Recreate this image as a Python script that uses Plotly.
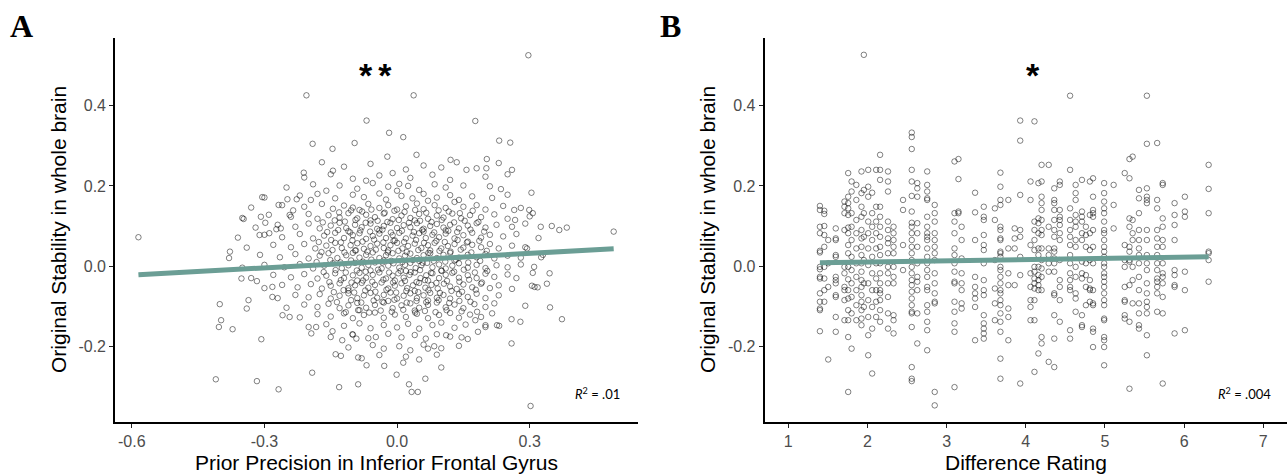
import plotly.graph_objects as go

# ---------------- Panel A data: (prior precision IFG, original stability) ----------------
pts_a_outer = [
    (0.297, 0.526), (-0.205, 0.426), (0.0375, 0.426), (-0.069, 0.363), (0.177, 0.362),
    (-0.018, 0.3325), (0.014, 0.3217), (-0.191, 0.305), (-0.096, 0.307), (-0.146, 0.2925),
    (0.231, 0.313), (0.256, 0.308), (0.044, 0.2775), (-0.022, 0.273), (0.203, 0.267),
    (0.121, 0.265), (0.135, 0.259), (-0.211, 0.233), (0.26, 0.24), (0.202, 0.244),
    (0.157, 0.24), (-0.145, 0.238), (-0.305, 0.172), (-0.268, 0.1525), (-0.248, 0.1667),
    (-0.227, 0.1667), (-0.347, 0.1175), (-0.243, 0.1275), (-0.308, 0.123), (-0.298, 0.108),
    (-0.311, 0.0775), (-0.289, 0.082), (-0.273, 0.092), (-0.263, 0.094), (-0.378, 0.036),
    (-0.585, 0.072), (0.307, 0.132), (0.325, 0.098), (0.367, 0.09), (0.384, 0.096),
    (0.49, 0.086), (0.304, 0.183), (0.299, 0.14), (0.265, 0.14), (0.267, 0.115),
    (0.294, 0.044), (0.326, 0.022), (0.307, -0.017), (0.345, -0.018), (0.339, -0.044),
    (0.305, -0.049), (0.311, -0.052), (0.318, -0.053), (0.29, -0.099), (0.346, -0.103),
    (0.373, -0.1325), (0.259, -0.1325), (0.279, -0.139), (0.259, -0.193), (0.302, -0.349),
    (0.1, -0.253), (0.064, -0.281), (0.027, -0.295), (0.033, -0.314), (0.047, -0.314),
    (-0.001, -0.271), (0.014, -0.241), (-0.029, -0.249), (-0.048, -0.177), (-0.088, -0.295),
    (-0.131, -0.302), (-0.069, -0.2475), (-0.088, -0.228), (-0.139, -0.22), (-0.127, -0.224),
    (-0.192, -0.266), (-0.268, -0.3075), (-0.317, -0.287), (-0.41, -0.2825), (-0.372, -0.1575),
    (-0.398, -0.135), (-0.403, -0.152), (-0.401, -0.095), (-0.34, -0.106), (-0.336, -0.085),
    (-0.352, -0.031), (-0.317, -0.0375), (-0.307, -0.1825), (-0.259, -0.1225), (-0.243, -0.127),
    (-0.282, -0.077), (-0.282, -0.052), (-0.194, -0.168), (-0.183, -0.152), (-0.146, -0.1625),
    (-0.124, -0.185), (-0.101, -0.17), (-0.092, -0.181), (0.084, -0.2), (0.07, -0.206),
    (0.111, -0.1725), (0.146, -0.178), (0.183, -0.164), (0.2, -0.1475), (0.226, -0.1475),
    (0.177, -0.135), (0.181, -0.114), (0.231, -0.149),
]

pts_a_core = [
    (-0.12, 0.248), (-0.06, 0.255), (0.02, 0.241), (0.06, 0.251), (0.1, 0.246), (-0.17, 0.259), (0.18, 0.244), (0.23, 0.257),
    (-0.21, 0.221), (-0.15, 0.229), (-0.1, 0.218), (-0.04, 0.226), (-0.01, 0.232), (0.03, 0.22), (0.08, 0.228), (0.12, 0.215),
    (0.2, 0.223), (0.25, 0.229), (-0.07, 0.213),
    (-0.25, 0.196), (-0.19, 0.204), (-0.13, 0.201), (-0.09, 0.193), (-0.055, 0.207), (-0.02, 0.198), (0.005, 0.205), (0.025, 0.2),
    (0.05, 0.19), (0.085, 0.204), (0.11, 0.196), (0.15, 0.201), (0.21, 0.199), (0.235, 0.192), (-0.16, 0.188), (0.0, 0.188),
    (-0.3, 0.171), (-0.22, 0.176), (-0.18, 0.18), (-0.14, 0.169), (-0.1, 0.178), (-0.075, 0.172), (-0.04, 0.181), (-0.025, 0.166),
    (0.01, 0.175), (0.035, 0.169), (0.06, 0.18), (0.09, 0.171), (0.12, 0.177), (0.14, 0.165), (0.17, 0.174), (0.215, 0.17),
    (0.25, 0.178), (-0.195, 0.165), (0.07, 0.163),
    (-0.33, 0.146), (-0.26, 0.152), (-0.21, 0.148), (-0.17, 0.155), (-0.145, 0.143), (-0.12, 0.151), (-0.1, 0.146), (-0.085, 0.14),
    (-0.065, 0.155), (-0.04, 0.145), (-0.02, 0.152), (0.0, 0.141), (0.02, 0.149), (0.045, 0.156), (0.06, 0.142), (0.085, 0.152),
    (0.11, 0.145), (0.13, 0.16), (0.15, 0.148), (0.18, 0.152), (0.2, 0.141), (0.24, 0.15), (0.28, 0.145), (-0.235, 0.139),
    (-0.35, 0.12), (-0.29, 0.128), (-0.24, 0.123), (-0.2, 0.13), (-0.18, 0.118), (-0.155, 0.127), (-0.13, 0.121), (-0.11, 0.132),
    (-0.09, 0.119), (-0.07, 0.128), (-0.05, 0.122), (-0.03, 0.131), (-0.01, 0.117), (0.01, 0.126), (0.03, 0.12), (0.05, 0.13),
    (0.07, 0.118), (0.09, 0.126), (0.105, 0.121), (0.125, 0.131), (0.145, 0.119), (0.165, 0.127), (0.19, 0.122), (0.22, 0.129),
    (0.25, 0.118), (0.3, 0.124), (-0.06, 0.114), (0.04, 0.114),
    (-0.32, 0.096), (-0.27, 0.103), (-0.23, 0.098), (-0.2, 0.106), (-0.175, 0.094), (-0.15, 0.101), (-0.13, 0.108), (-0.115, 0.095),
    (-0.095, 0.103), (-0.08, 0.097), (-0.06, 0.106), (-0.045, 0.093), (-0.03, 0.1), (-0.015, 0.108), (0.0, 0.095), (0.015, 0.102),
    (0.03, 0.097), (0.045, 0.107), (0.06, 0.093), (0.075, 0.1), (0.09, 0.105), (0.105, 0.096), (0.12, 0.103), (0.14, 0.094),
    (0.16, 0.101), (0.18, 0.107), (0.2, 0.096), (0.225, 0.103), (0.26, 0.098), (0.29, 0.106), (0.35, 0.1), (-0.04, 0.089), (0.11, 0.089),
    (-0.36, 0.071), (-0.3, 0.078), (-0.26, 0.072), (-0.22, 0.08), (-0.19, 0.069), (-0.165, 0.076), (-0.14, 0.083), (-0.12, 0.07),
    (-0.1, 0.077), (-0.085, 0.082), (-0.07, 0.068), (-0.055, 0.075), (-0.04, 0.081), (-0.025, 0.07), (-0.01, 0.077), (0.005, 0.083),
    (0.02, 0.069), (0.035, 0.076), (0.05, 0.082), (0.065, 0.07), (0.08, 0.078), (0.095, 0.072), (0.11, 0.081), (0.13, 0.069),
    (0.15, 0.077), (0.17, 0.083), (0.19, 0.071), (0.21, 0.078), (0.24, 0.074), (0.27, 0.08), (0.32, 0.07), (-0.005, 0.064),
    (0.06, 0.086), (-0.11, 0.087),
    (-0.34, 0.046), (-0.28, 0.053), (-0.24, 0.047), (-0.21, 0.055), (-0.185, 0.044), (-0.16, 0.051), (-0.14, 0.058), (-0.125, 0.045),
    (-0.105, 0.052), (-0.09, 0.057), (-0.075, 0.043), (-0.06, 0.05), (-0.045, 0.056), (-0.03, 0.045), (-0.015, 0.052), (0.0, 0.058),
    (0.012, 0.044), (0.025, 0.05), (0.04, 0.056), (0.055, 0.045), (0.07, 0.052), (0.085, 0.058), (0.1, 0.044), (0.115, 0.05),
    (0.13, 0.055), (0.15, 0.046), (0.17, 0.053), (0.19, 0.047), (0.21, 0.055), (0.23, 0.044), (0.26, 0.051), (0.29, 0.047),
    (-0.02, 0.039), (0.075, 0.039), (-0.095, 0.039), (0.16, 0.061),
    (-0.38, 0.02), (-0.31, 0.028), (-0.265, 0.022), (-0.23, 0.03), (-0.2, 0.019), (-0.175, 0.026), (-0.155, 0.032), (-0.135, 0.02),
    (-0.115, 0.027), (-0.1, 0.033), (-0.085, 0.021), (-0.07, 0.028), (-0.055, 0.034), (-0.04, 0.02), (-0.025, 0.027), (-0.01, 0.032),
    (0.005, 0.019), (0.018, 0.026), (0.03, 0.031), (0.045, 0.02), (0.06, 0.027), (0.075, 0.032), (0.09, 0.02), (0.105, 0.028),
    (0.12, 0.033), (0.14, 0.021), (0.16, 0.028), (0.18, 0.022), (0.2, 0.03), (0.22, 0.019), (0.25, 0.026), (0.28, 0.021),
    (0.33, 0.028), (-0.03, 0.014), (0.05, 0.013), (0.13, 0.014),
    (-0.35, -0.004), (-0.3, 0.003), (-0.255, -0.003), (-0.22, 0.005), (-0.19, -0.006), (-0.165, 0.001), (-0.145, 0.007), (-0.125, -0.005),
    (-0.11, 0.002), (-0.095, 0.008), (-0.08, -0.004), (-0.065, 0.003), (-0.05, 0.009), (-0.035, -0.006), (-0.02, 0.001), (-0.008, 0.007),
    (0.005, -0.004), (0.018, 0.003), (0.03, 0.008), (0.042, -0.005), (0.055, 0.002), (0.068, 0.008), (0.08, -0.003), (0.095, 0.004),
    (0.11, -0.006), (0.125, 0.001), (0.14, 0.007), (0.16, -0.004), (0.18, 0.003), (0.2, -0.005), (0.225, 0.002), (0.25, -0.003),
    (0.28, 0.004), (0.31, -0.002), (-0.06, -0.011), (0.02, -0.012), (0.1, -0.011),
    (-0.33, -0.03), (-0.28, -0.022), (-0.24, -0.028), (-0.21, -0.02), (-0.18, -0.031), (-0.16, -0.024), (-0.14, -0.018), (-0.12, -0.03),
    (-0.1, -0.023), (-0.085, -0.017), (-0.07, -0.029), (-0.055, -0.022), (-0.04, -0.016), (-0.025, -0.031), (-0.01, -0.024), (0.003, -0.018),
    (0.015, -0.029), (0.028, -0.022), (0.04, -0.016), (0.053, -0.03), (0.066, -0.023), (0.08, -0.018), (0.095, -0.03), (0.11, -0.022),
    (0.125, -0.017), (0.14, -0.029), (0.16, -0.023), (0.18, -0.03), (0.2, -0.019), (0.22, -0.027), (0.25, -0.021), (0.27, -0.03),
    (-0.005, -0.036), (0.07, -0.036), (-0.09, -0.036),
    (-0.3, -0.055), (-0.26, -0.047), (-0.225, -0.053), (-0.195, -0.045), (-0.17, -0.056), (-0.15, -0.049), (-0.13, -0.043), (-0.11, -0.055),
    (-0.095, -0.048), (-0.08, -0.042), (-0.065, -0.054), (-0.05, -0.047), (-0.035, -0.041), (-0.02, -0.056), (-0.005, -0.049), (0.01, -0.043),
    (0.023, -0.055), (0.036, -0.048), (0.05, -0.042), (0.064, -0.054), (0.078, -0.047), (0.092, -0.056), (0.106, -0.044), (0.12, -0.051),
    (0.135, -0.057), (0.15, -0.046), (0.17, -0.053), (0.19, -0.044), (0.21, -0.055), (0.23, -0.048), (0.26, -0.057), (-0.11, -0.061), (0.04, -0.062),
    (-0.27, -0.08), (-0.23, -0.072), (-0.2, -0.078), (-0.175, -0.07), (-0.15, -0.081), (-0.13, -0.074), (-0.11, -0.068), (-0.09, -0.08),
    (-0.075, -0.073), (-0.06, -0.067), (-0.045, -0.079), (-0.03, -0.072), (-0.015, -0.066), (0.0, -0.081), (0.015, -0.074), (0.03, -0.068),
    (0.045, -0.08), (0.06, -0.073), (0.075, -0.067), (0.09, -0.079), (0.105, -0.072), (0.12, -0.081), (0.14, -0.07), (0.16, -0.077),
    (0.18, -0.069), (0.2, -0.08), (0.23, -0.073), (-0.02, -0.087), (0.07, -0.086),
    (-0.25, -0.104), (-0.21, -0.096), (-0.18, -0.102), (-0.155, -0.094), (-0.13, -0.105), (-0.11, -0.098), (-0.09, -0.092), (-0.07, -0.104),
    (-0.05, -0.097), (-0.03, -0.091), (-0.01, -0.105), (0.01, -0.098), (0.03, -0.093), (0.05, -0.104), (0.07, -0.097), (0.09, -0.091),
    (0.11, -0.103), (0.13, -0.096), (0.15, -0.105), (0.175, -0.095), (0.2, -0.102), (0.22, -0.093), (-0.085, -0.11), (0.04, -0.111),
    (-0.22, -0.128), (-0.18, -0.12), (-0.15, -0.126), (-0.12, -0.118), (-0.1, -0.13), (-0.075, -0.122), (-0.05, -0.116), (-0.03, -0.129),
    (-0.005, -0.121), (0.02, -0.127), (0.045, -0.119), (0.07, -0.13), (0.095, -0.122), (0.12, -0.117), (0.14, -0.129), (0.165, -0.121),
    (0.19, -0.127), (0.215, -0.118),
    (-0.2, -0.152), (-0.16, -0.145), (-0.12, -0.149), (-0.085, -0.143), (-0.06, -0.155), (-0.03, -0.147), (0.0, -0.153), (0.025, -0.144),
    (0.05, -0.156), (0.08, -0.147), (0.1, -0.141), (0.13, -0.154), (0.155, -0.146), (0.2, -0.152),
    (-0.15, -0.177), (-0.1, -0.171), (-0.065, -0.18), (-0.02, -0.169), (0.01, -0.178), (0.04, -0.172), (0.065, -0.181), (0.09, -0.17),
    (0.12, -0.176), (0.16, -0.182),
    (-0.11, -0.203), (-0.055, -0.197), (-0.03, -0.206), (0.005, -0.2), (0.03, -0.21), (0.06, -0.196), (0.1, -0.205), (0.14, -0.199),
    (-0.08, -0.23), (-0.04, -0.222), (0.02, -0.226), (0.05, -0.233), (0.09, -0.221),
]

# dense centre of the cloud
pts_a_centre = [
    (-0.131, 0.134), (-0.104, 0.139), (-0.079, 0.136), (-0.058, 0.141), (-0.028, 0.133), (-0.006, 0.138), (0.017, 0.135),
    (0.041, 0.14), (0.066, 0.133), (0.094, 0.139), (0.117, 0.136), (0.142, 0.132), (0.171, 0.138),
    (-0.168, 0.109), (-0.141, 0.114), (-0.118, 0.111), (-0.094, 0.115), (-0.071, 0.108), (-0.044, 0.113), (-0.022, 0.11),
    (0.004, 0.115), (0.027, 0.108), (0.052, 0.113), (0.078, 0.11), (0.101, 0.115), (0.129, 0.109), (0.153, 0.113), (0.184, 0.11),
    (-0.158, 0.085), (-0.133, 0.09), (-0.106, 0.084), (-0.083, 0.089), (-0.061, 0.086), (-0.033, 0.091), (-0.014, 0.084),
    (0.011, 0.088), (0.038, 0.085), (0.057, 0.09), (0.084, 0.084), (0.116, 0.088), (0.136, 0.085), (0.166, 0.091), (0.197, 0.086),
    (-0.177, 0.06), (-0.149, 0.065), (-0.127, 0.059), (-0.101, 0.064), (-0.078, 0.061), (-0.052, 0.066), (-0.031, 0.059),
    (-0.008, 0.063), (0.016, 0.06), (0.043, 0.065), (0.061, 0.058), (0.089, 0.063), (0.108, 0.06), (0.137, 0.065), (0.158, 0.059), (0.186, 0.063),
    (-0.171, 0.035), (-0.146, 0.04), (-0.119, 0.034), (-0.093, 0.039), (-0.067, 0.036), (-0.048, 0.041), (-0.021, 0.034),
    (0.003, 0.038), (0.022, 0.035), (0.048, 0.04), (0.071, 0.033), (0.096, 0.038), (0.121, 0.036), (0.144, 0.041), (0.168, 0.034), (0.203, 0.038),
    (-0.182, 0.01), (-0.151, 0.015), (-0.128, 0.009), (-0.104, 0.014), (-0.077, 0.011), (-0.058, 0.016), (-0.033, 0.009),
    (-0.013, 0.013), (0.012, 0.01), (0.036, 0.015), (0.058, 0.008), (0.083, 0.013), (0.109, 0.011), (0.133, 0.016), (0.161, 0.009), (0.188, 0.013),
    (-0.166, -0.015), (-0.139, -0.01), (-0.116, -0.016), (-0.091, -0.011), (-0.071, -0.014), (-0.043, -0.009), (-0.018, -0.016),
    (0.008, -0.012), (0.031, -0.015), (0.052, -0.01), (0.077, -0.017), (0.101, -0.012), (0.129, -0.014), (0.151, -0.009), (0.176, -0.016), (0.204, -0.012),
    (-0.153, -0.04), (-0.127, -0.035), (-0.103, -0.041), (-0.077, -0.036), (-0.056, -0.039), (-0.031, -0.034), (-0.009, -0.041),
    (0.018, -0.037), (0.044, -0.04), (0.063, -0.035), (0.089, -0.042), (0.113, -0.037), (0.141, -0.039), (0.163, -0.034), (0.192, -0.041),
    (-0.143, -0.065), (-0.121, -0.06), (-0.097, -0.066), (-0.072, -0.061), (-0.049, -0.064), (-0.024, -0.059), (-0.002, -0.066),
    (0.021, -0.062), (0.048, -0.065), (0.071, -0.06), (0.097, -0.067), (0.123, -0.062), (0.147, -0.064), (0.178, -0.059),
    (-0.136, -0.09), (-0.104, -0.085), (-0.081, -0.091), (-0.053, -0.086), (-0.033, -0.089), (-0.006, -0.084), (0.022, -0.091),
    (0.044, -0.087), (0.066, -0.09), (0.094, -0.085), (0.118, -0.092), (0.141, -0.087), (0.166, -0.089),
    (-0.116, -0.115), (-0.088, -0.11), (-0.063, -0.116), (-0.037, -0.111), (-0.012, -0.114), (0.014, -0.109), (0.041, -0.116),
    (0.063, -0.112), (0.087, -0.115), (0.112, -0.11), (0.146, -0.113),
]

pts_a = pts_a_outer + pts_a_core + pts_a_centre
prior_precision = [p[0] for p in pts_a]
stability_a = [p[1] for p in pts_a]

# ---------------- Panel B data: (difference rating column, stability values) ----------------
b_columns = [
    (1.40, [0.15, 0.14, 0.098, 0.082, 0.038, 0.034, -0.002, -0.008, -0.027, -0.031, -0.068, -0.089, -0.106, -0.11, -0.1625]),
    (1.455, [0.138, 0.13, 0.1, 0.0775, 0.048, -0.002, -0.031, -0.06, -0.089]),
    (1.505, [0.065, 0.007, -0.052, -0.233]),
    (1.60, [0.094, 0.069, 0.065, 0.0275, 0.023, -0.027, -0.035, -0.043, -0.0725, -0.077, -0.127, -0.164]),
    (1.71, [0.161, 0.148, 0.132, 0.09, -0.002, -0.018, -0.052, -0.06, -0.085, -0.135]),
    (1.757, [0.232, 0.173, 0.157, 0.144, 0.1275, 0.096, 0.082, 0.0525, 0.032, -0.002, -0.033, -0.06, -0.081, -0.11, -0.135, -0.177, -0.314]),
    (1.80, [0.211, 0.186, 0.132, 0.098, 0.065, 0.023, -0.01, -0.043, -0.077, -0.118, -0.206]),
    (1.86, [0.2025, 0.165, 0.115, 0.082, 0.044, 0.007, -0.027, -0.06, -0.0975, -0.135]),
    (1.925, [0.236, 0.182, 0.148, 0.123, 0.09, 0.069, 0.048, 0.0275, 0.007, -0.014, -0.035, -0.052, -0.0725, -0.089, -0.11, -0.131, -0.1475]),
    (1.955, [0.527, 0.19, 0.132, 0.073, 0.015, -0.043, -0.102]),
    (2.01, [0.24, 0.198, 0.173, 0.111, 0.082, 0.044, 0.0025, -0.043, -0.085, -0.127, -0.1725, -0.2225]),
    (2.06, [0.183, 0.132, 0.098, 0.065, 0.023, -0.018, -0.06, -0.102, -0.156, -0.268]),
    (2.11, [0.24, 0.148, 0.111, 0.082, 0.044, 0.007, -0.031, -0.06, -0.089, -0.127]),
    (2.16, [0.2775, 0.24, 0.215, 0.148, 0.123, 0.098, 0.073, 0.048, 0.0275, 0.007, -0.018, -0.043, -0.06, -0.068, -0.085, -0.11, -0.139]),
    (2.26, [0.236, 0.211, 0.186, 0.111, 0.09, 0.069, 0.057, 0.032, -0.002, -0.018, -0.043, -0.077, -0.118, -0.156]),
    (2.33, [0.098, 0.082, 0.065, 0.048, 0.032, -0.002, -0.027, -0.043, -0.1225, -0.135, -0.168]),
    (2.45, [0.165, 0.14, 0.0525, -0.01]),
    (2.56, [0.333, 0.322, 0.292, 0.24, 0.211, 0.175, 0.136, 0.108, 0.098, 0.082, 0.065, 0.048, 0.032, 0.015, -0.002, -0.018,
            -0.035, -0.0475, -0.064, -0.081, -0.0975, -0.114, -0.118, -0.152, -0.252, -0.281, -0.287]),
    (2.63, [0.207, 0.194, 0.173, 0.107, 0.082, 0.048, 0.007, -0.027, -0.039, -0.06, -0.118, -0.193]),
    (2.755, [0.236, 0.2025, 0.186, 0.169, 0.165, 0.123, 0.098, 0.082, 0.073, 0.065, 0.044, 0.023, 0.007, -0.01, -0.027, -0.052,
             -0.06, -0.0975, -0.114, -0.139, -0.16, -0.21]),
    (2.85, [0.1525, 0.132, 0.111, 0.082, 0.065, 0.048, 0.032, 0.015, -0.018, -0.043, -0.068, -0.089, -0.093, -0.314, -0.3475]),
    (3.10, [0.261, 0.132, 0.111, 0.082, 0.044, 0.0275, 0.007, -0.014, -0.039, -0.043, -0.089, -0.114, -0.143, -0.164, -0.302]),
    (3.15, [0.267, 0.217, 0.136, 0.132]),
    (3.19, [0.098, 0.065, 0.019, -0.018, -0.043, -0.06, -0.093, -0.106]),
    (3.36, [0.183, 0.134, 0.065, -0.027, -0.052, -0.068, -0.081, -0.102, -0.185]),
    (3.47, [0.148, 0.123, 0.115, 0.0775, 0.0525, 0.04, 0.007, -0.035, -0.06, -0.0725, -0.1225, -0.143, -0.156, -0.168, -0.181]),
    (3.61, [0.144, 0.115, 0.015, -0.056, -0.093, -0.135]),
    (3.68, [0.233, 0.198, 0.165, 0.1525, 0.098, 0.09, 0.069, 0.065, 0.036, 0.032, 0.023, -0.002, -0.01, -0.027, -0.043, -0.06,
            -0.068, -0.085, -0.0975, -0.118, -0.139, -0.164, -0.231, -0.281]),
    (3.78, [0.165, 0.044, -0.018, -0.0475, -0.106, -0.127, -0.185]),
    (3.86, [0.094, 0.069, 0.044, -0.0475]),
    (3.93, [0.363, 0.313, 0.1775, 0.09, 0.073, 0.023, -0.0225, -0.293]),
    (4.06, [0.211, 0.165, 0.0525, -0.018, -0.052, -0.085, -0.102, -0.135]),
    (4.11, [0.361, 0.111, 0.09, 0.065, 0.04, -0.002, -0.014, -0.031, -0.043, -0.056, -0.085, -0.135, -0.264]),
    (4.16, [0.207, 0.119, 0.107, 0.082, 0.044, 0.0275, -0.002, -0.0225, -0.035, -0.0475, -0.06, -0.218]),
    (4.20, [0.2525, 0.211, 0.173, 0.157, 0.14, 0.115, 0.09, 0.0775, 0.044, 0.015, -0.006, -0.027, -0.06, -0.177, -0.193]),
    (4.29, [0.2525, 0.098, 0.044, 0.0275, 0.007, -0.014, -0.239]),
    (4.36, [0.194, 0.165, 0.157, 0.14, 0.115, 0.09, 0.073, 0.044, 0.036, 0.019, 0.007, -0.014, -0.068, -0.0725, -0.1225, -0.181, -0.252]),
    (4.43, [0.211, 0.2025, 0.14, 0.123, 0.115, 0.1025, 0.082, 0.065, 0.015, -0.035, -0.052, -0.085, -0.139]),
    (4.56, [0.425, 0.24, 0.144, 0.115, 0.09, 0.073, 0.0525, 0.0275, 0.007, -0.018, -0.035, -0.052, -0.06, -0.16, -0.181]),
    (4.63, [0.2025, 0.182, 0.165, 0.1275, 0.111, 0.098, 0.065, 0.048, -0.002, -0.027, -0.068, -0.081, -0.114]),
    (4.71, [0.215, 0.136, 0.123, 0.111, 0.082, 0.065, 0.011, -0.018, -0.031, -0.1225, -0.1475, -0.152]),
    (4.76, [0.098, 0.0775, 0.048, 0.007, -0.0225, -0.052, -0.0975]),
    (4.81, [0.211, 0.1275, 0.082, 0.04, 0.015, -0.035, -0.056, -0.06, -0.089]),
    (4.85, [0.219, 0.173, 0.14, 0.132, 0.123, 0.09, 0.048, 0.007, -0.06, -0.093, -0.0975, -0.156, -0.164, -0.202]),
    (4.99, [0.207, 0.182, 0.161, 0.144, 0.132, 0.111, 0.09, 0.082, 0.065, 0.048, 0.036, 0.023, 0.007, -0.002, -0.018, -0.027,
            -0.039, -0.052, -0.068, -0.085, -0.0975, -0.131, -0.135, -0.177, -0.185, -0.202, -0.2475]),
    (5.11, [0.2025, 0.1525, 0.094]),
    (5.25, [0.232, 0.0525, 0.015, -0.002, -0.052, -0.085, -0.089, -0.1225, -0.131]),
    (5.31, [0.267, 0.219, 0.119, 0.098, 0.048, 0.036, 0.015, 0.011, -0.0475, -0.139, -0.306]),
    (5.35, [0.273, 0.115, 0.082, 0.065, -0.002, -0.035, -0.093]),
    (5.43, [0.19, 0.169, 0.132, 0.09, 0.065, 0.044, 0.0275, 0.007, -0.027, -0.06, -0.093, -0.118, -0.1475, -0.156]),
    (5.53, [0.425, 0.305, 0.194, 0.173, 0.165, 0.157, 0.09, 0.065, 0.0275, 0.007, -0.01, -0.043, -0.068, -0.089, -0.102,
            -0.118, -0.1725, -0.2225]),
    (5.66, [0.307, 0.165, 0.144, 0.09, 0.069, 0.048, 0.0275, 0.007, -0.01, -0.031, -0.039, -0.052, -0.068, -0.114]),
    (5.73, [0.207, 0.2025, 0.119, 0.098, 0.065, 0.048, 0.007, -0.018, -0.027, -0.043, -0.077, -0.118, -0.293]),
    (5.88, [0.157, 0.1275, 0.1025, 0.065, -0.01, -0.0225, -0.0475, -0.052, -0.168]),
    (6.01, [0.173, 0.136, 0.123, -0.014, -0.06, -0.16]),
    (6.31, [0.2525, 0.1925, 0.132, 0.036, 0.032, 0.015, -0.039]),
]

difference_rating = [x for x, ys in b_columns for _ in ys]
stability_b = [y for _, ys in b_columns for y in ys]

# linear fits (intercept, slope)
fit_a = (0.0135, 0.0602)
fit_b = (0.0037, 0.00306)

ticks_a_x = [-0.6, -0.3, 0.0, 0.3]
ticks_b_x = [1, 2, 3, 4, 5, 6, 7]
ticks_y = [-0.2, 0.0, 0.2, 0.4]

LINE_COLOR = "#6b9e95"
PT_COLOR = "rgba(0,0,0,0.55)"
FONT = "Liberation Sans, Arial, sans-serif"

fig = go.Figure()

def add_panel(xs, ys, fit, xaxis, yaxis):
    fig.add_trace(go.Scatter(
        x=xs, y=ys, mode="markers", xaxis=xaxis, yaxis=yaxis, showlegend=False,
        marker=dict(symbol="circle-open", size=5.5, color=PT_COLOR, line=dict(width=0.9)),
    ))
    x0, x1 = min(xs), max(xs)
    fig.add_trace(go.Scatter(
        x=[x0, x1], y=[fit[0] + fit[1] * x0, fit[0] + fit[1] * x1], mode="lines",
        xaxis=xaxis, yaxis=yaxis, showlegend=False,
        line=dict(color=LINE_COLOR, width=5),
    ))

add_panel(prior_precision, stability_a, fit_a, "x", "y")
add_panel(difference_rating, stability_b, fit_b, "x2", "y2")

W, H = 1287, 475
ydom = [1 - 422 / H, 1 - 38 / H]

axis_common = dict(
    showgrid=False, zeroline=False, showline=True, linecolor="black", linewidth=1.6,
    ticks="outside", ticklen=4, tickwidth=1.2, tickcolor="#222",
    tickfont=dict(family=FONT, size=16, color="#4d4d4d"),
)

fig.update_layout(
    width=W, height=H, margin=dict(l=0, r=0, t=0, b=0),
    paper_bgcolor="white", plot_bgcolor="white",
    xaxis=dict(domain=[115 / W, 638 / W], range=[-0.638, 0.545], anchor="y",
               tickvals=ticks_a_x, ticktext=[f"{v:.1f}" for v in ticks_a_x], **axis_common),
    yaxis=dict(domain=ydom, range=[-0.389, 0.569], anchor="x",
               tickvals=ticks_y, ticktext=[f"{v:.1f}" for v in ticks_y], **axis_common),
    xaxis2=dict(domain=[764.5 / W, 1.0], range=[0.7, 7.3], anchor="y2",
                tickvals=ticks_b_x, ticktext=[str(v) for v in ticks_b_x], **axis_common),
    yaxis2=dict(domain=ydom, range=[-0.389, 0.569], anchor="x2",
                tickvals=ticks_y, ticktext=[f"{v:.1f}" for v in ticks_y], **axis_common),
)

ann = []
ann.append(dict(text="Prior Precision in Inferior Frontal Gyrus", xref="paper", yref="paper",
                x=376.5 / W, y=1 - 462 / H, xanchor="center", yanchor="middle", showarrow=False,
                font=dict(family=FONT, size=21, color="black")))
ann.append(dict(text="Difference Rating", xref="paper", yref="paper",
                x=1026 / W, y=1 - 462 / H, xanchor="center", yanchor="middle", showarrow=False,
                font=dict(family=FONT, size=21, color="black")))
for xc in (59, 708):
    ann.append(dict(text="Original Stability in whole brain", xref="paper", yref="paper",
                    x=xc / W, y=1 - 230 / H, xanchor="center", yanchor="middle", textangle=-90,
                    showarrow=False, font=dict(family=FONT, size=21, color="black")))
ann.append(dict(text="<b>A</b>", xref="paper", yref="paper", x=8 / W, y=1 - 26 / H,
                xanchor="left", yanchor="middle", showarrow=False,
                font=dict(family="Liberation Serif, Times New Roman, serif", size=32, color="black")))
ann.append(dict(text="<b>B</b>", xref="paper", yref="paper", x=658 / W, y=1 - 26 / H,
                xanchor="left", yanchor="middle", showarrow=False,
                font=dict(family="Liberation Serif, Times New Roman, serif", size=32, color="black")))
ann.append(dict(text="<b>*<span style='font-size:22px'> </span>*</b>", xref="x", yref="y", x=-0.048, y=0.477,
                xanchor="center", yanchor="middle", showarrow=False,
                font=dict(family=FONT, size=34, color="black")))
ann.append(dict(text="<b>*</b>", xref="x2", yref="y2", x=4.09, y=0.477, xanchor="center",
                yanchor="middle", showarrow=False, font=dict(family=FONT, size=34, color="black")))
ann.append(dict(text="<i>R</i><sup>2</sup> = .01", xref="paper", yref="paper", x=622 / W, y=1 - 393 / H,
                xanchor="right", yanchor="middle", showarrow=False,
                font=dict(family="Lato, Open Sans, sans-serif", size=13, color="black")))
ann.append(dict(text="<i>R</i><sup>2</sup> = .004", xref="paper", yref="paper", x=1273 / W, y=1 - 393 / H,
                xanchor="right", yanchor="middle", showarrow=False,
                font=dict(family="Lato, Open Sans, sans-serif", size=13, color="black")))

fig.update_layout(annotations=ann)
fig.write_html("out.html")
